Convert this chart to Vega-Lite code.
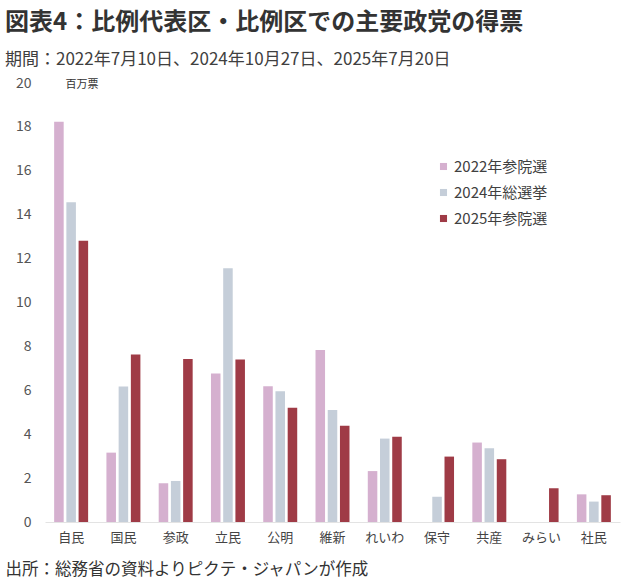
{
  "$schema": "https://vega.github.io/schema/vega-lite/v6.json",
  "width": 575,
  "height": 439,
  "autosize": {"type": "none"},
  "padding": {"left": 45, "top": 83, "right": 11, "bottom": 66},
  "background": "white",
  "config": {
    "font": "Noto Sans CJK JP",
    "view": {"stroke": null}
  },
  "title": {
    "text": "図表4：比例代表区・比例区での主要政党の得票",
    "subtitle": "期間：2022年7月10日、2024年10月27日、2025年7月20日",
    "anchor": "start",
    "frame": "group",
    "dx": -40,
    "offset": 8,
    "fontSize": 24,
    "fontWeight": "bold",
    "color": "#333333",
    "subtitleFontSize": 17,
    "subtitleColor": "#404040",
    "subtitlePadding": 17,
    "subtitleFont": "Noto Sans CJK JP"
  },
  "data": {
    "values": [
      {"party": "自民", "election": "2022年参院選", "votes": 18.23},
      {"party": "自民", "election": "2024年総選挙", "votes": 14.57},
      {"party": "自民", "election": "2025年参院選", "votes": 12.81},
      {"party": "国民", "election": "2022年参院選", "votes": 3.16},
      {"party": "国民", "election": "2024年総選挙", "votes": 6.17},
      {"party": "国民", "election": "2025年参院選", "votes": 7.63},
      {"party": "参政", "election": "2022年参院選", "votes": 1.76},
      {"party": "参政", "election": "2024年総選挙", "votes": 1.87},
      {"party": "参政", "election": "2025年参院選", "votes": 7.43},
      {"party": "立民", "election": "2022年参院選", "votes": 6.77},
      {"party": "立民", "election": "2024年総選挙", "votes": 11.56},
      {"party": "立民", "election": "2025年参院選", "votes": 7.40},
      {"party": "公明", "election": "2022年参院選", "votes": 6.18},
      {"party": "公明", "election": "2024年総選挙", "votes": 5.96},
      {"party": "公明", "election": "2025年参院選", "votes": 5.21},
      {"party": "維新", "election": "2022年参院選", "votes": 7.84},
      {"party": "維新", "election": "2024年総選挙", "votes": 5.10},
      {"party": "維新", "election": "2025年参院選", "votes": 4.38},
      {"party": "れいわ", "election": "2022年参院選", "votes": 2.32},
      {"party": "れいわ", "election": "2024年総選挙", "votes": 3.80},
      {"party": "れいわ", "election": "2025年参院選", "votes": 3.88},
      {"party": "保守", "election": "2024年総選挙", "votes": 1.15},
      {"party": "保守", "election": "2025年参院選", "votes": 2.98},
      {"party": "共産", "election": "2022年参院選", "votes": 3.62},
      {"party": "共産", "election": "2024年総選挙", "votes": 3.36},
      {"party": "共産", "election": "2025年参院選", "votes": 2.86},
      {"party": "みらい", "election": "2025年参院選", "votes": 1.54},
      {"party": "社民", "election": "2022年参院選", "votes": 1.26},
      {"party": "社民", "election": "2024年総選挙", "votes": 0.93},
      {"party": "社民", "election": "2025年参院選", "votes": 1.22}
    ]
  },
  "mark": {"type": "bar"},
  "encoding": {
    "x": {
      "field": "party",
      "type": "nominal",
      "sort": ["自民", "国民", "参政", "立民", "公明", "維新", "れいわ", "保守", "共産", "みらい", "社民"],
      "scale": {"paddingInner": 0.35, "paddingOuter": 0.175},
      "axis": {
        "title": "出所：総務省の資料よりピクテ・ジャパンが作成",
        "titleAnchor": "start",
        "titleAlign": "left",
        "titleBaseline": "alphabetic",
        "titleX": -40,
        "titleY": 52,
        "titleFontSize": 16.5,
        "titleFontWeight": "normal",
        "titleColor": "#333333",
        "labelAngle": 0,
        "labelFontSize": 13,
        "labelColor": "#444444",
        "labelPadding": 9,
        "ticks": false,
        "domainColor": "#e3e3e3",
        "domainWidth": 1
      }
    },
    "xOffset": {
      "field": "election",
      "type": "nominal",
      "scale": {"domain": ["2022年参院選", "2024年総選挙", "2025年参院選"], "paddingInner": 0.22}
    },
    "y": {
      "field": "votes",
      "type": "quantitative",
      "scale": {"domain": [0, 20], "nice": false},
      "axis": {
        "values": [0, 2, 4, 6, 8, 10, 12, 14, 16, 18, 20],
        "title": "百万票",
        "titleAngle": 0,
        "titleAlign": "left",
        "titleBaseline": "middle",
        "titleX": 20,
        "titleY": 1,
        "titleFontSize": 11,
        "titleFontWeight": "normal",
        "titleColor": "#333333",
        "labelFontSize": 14,
        "labelColor": "#555555",
        "labelPadding": 14,
        "ticks": false,
        "domain": false,
        "grid": false
      }
    },
    "color": {
      "field": "election",
      "type": "nominal",
      "scale": {
        "domain": ["2022年参院選", "2024年総選挙", "2025年参院選"],
        "range": ["#d5b0cf", "#c5ced9", "#9f3b46"]
      },
      "legend": {
        "title": null,
        "orient": "none",
        "legendX": 391,
        "legendY": 76,
        "symbolType": "square",
        "symbolSize": 50,
        "symbolStrokeWidth": 0,
        "labelFontSize": 15,
        "labelColor": "#404040",
        "labelOffset": 3,
        "rowPadding": 10
      }
    }
  }
}
